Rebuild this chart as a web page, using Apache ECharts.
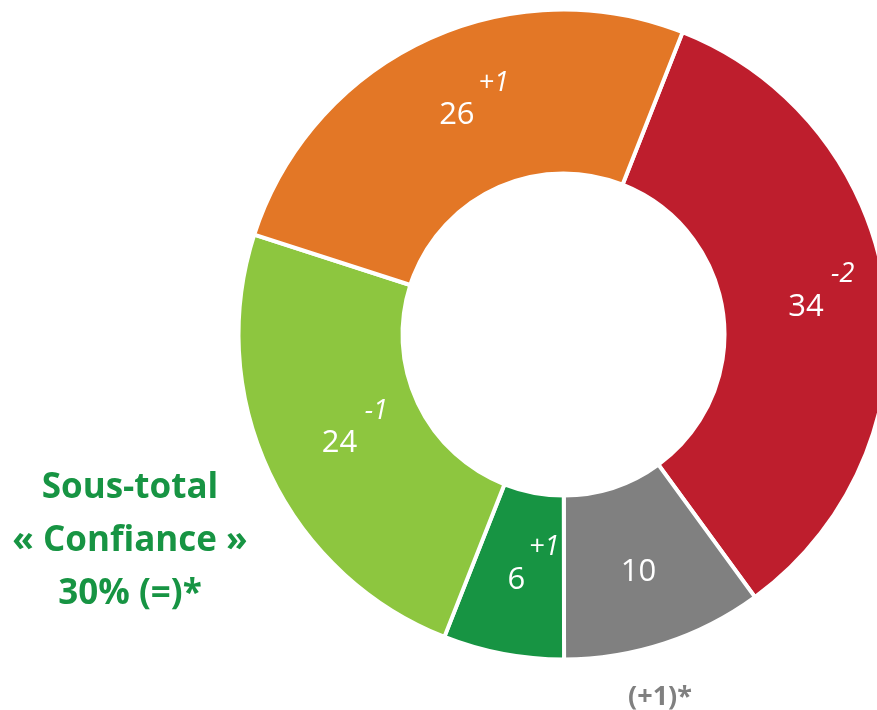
<!DOCTYPE html>
<html>
<head>
<meta charset="utf-8">
<script src="https://cdn.jsdelivr.net/npm/echarts@6/dist/echarts.min.js"></script>
<style>
  html, body { margin: 0; padding: 0; background: #ffffff; }
  #chart { width: 877px; height: 710px; }
</style>
</head>
<body>
<div id="chart"></div>
<script>
// Segments, clockwise from the top-right
const categories = ['Pas du tout confiance', 'Ne se prononce pas', 'Très confiance', 'Plutôt confiance', 'Plutôt pas confiance'];
const values = [34, 10, 6, 24, 26];
const changes = ['-2', '', '+1', '-1', '+1'];
const colors = ['#BE1E2D', '#808080', '#179443', '#8DC63F', '#E37726'];
const noNoteChange = '(+1)*';
const subtotalLines = ['Sous-total', '« Confiance »', '30% (=)*'];

const FONT = '"Open Sans", "DejaVu Sans", sans-serif';
const SUP_W = 32;

const chart = echarts.init(document.getElementById('chart'), null, { renderer: 'canvas' });

const data = categories.map((name, i) => ({
  name: name,
  value: values[i],
  itemStyle: { color: colors[i] }
}));

const option = {
  animation: false,
  series: [{
    type: 'pie',
    center: [563.5, 334.5],
    radius: [161, 325],
    startAngle: 68.5,
    clockwise: true,
    avoidLabelOverlap: false,
    silent: true,
    itemStyle: { borderColor: '#ffffff', borderWidth: 4 },
    emphasis: { disabled: true },
    label: {
      show: true,
      position: 'inside',
      formatter: function (p) {
        // value centred, change drawn as a raised italic superscript
        return '{p|}{v|' + p.value + '}{s|' + changes[p.dataIndex] + '}';
      },
      rich: {
        p: { width: SUP_W, height: 10 },
        v: {
          fontFamily: FONT, fontSize: 31, color: '#ffffff',
          verticalAlign: 'middle', padding: [7, 0, 0, 0]
        },
        s: {
          fontFamily: FONT, fontSize: 27, fontStyle: 'italic', color: '#ffffff',
          width: SUP_W, align: 'left', lineHeight: 27, padding: [0, 0, 57, 3],
          verticalAlign: 'middle'
        }
      }
    },
    labelLine: { show: false },
    data: data
  }],
  graphic: [
    {
      type: 'text',
      x: 130,
      y: 541,
      style: {
        text: subtotalLines.join('\n'),
        align: 'center', verticalAlign: 'middle',
        fontFamily: FONT, fontSize: 35, fontWeight: 'bold',
        lineHeight: 53, fill: '#179443'
      }
    },
    {
      type: 'text',
      x: 660,
      y: 697,
      style: {
        text: noNoteChange,
        align: 'center', verticalAlign: 'middle',
        fontFamily: FONT, fontSize: 27, fontWeight: 'bold', fill: '#808080'
      }
    }
  ]
};

chart.setOption(option);
</script>
</body>
</html>
